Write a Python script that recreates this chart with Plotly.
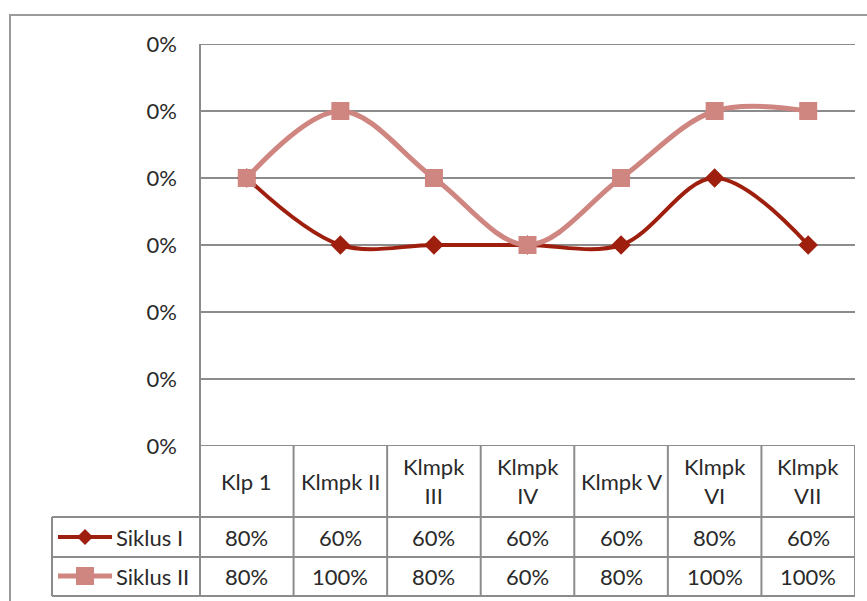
import plotly.graph_objects as go

# ---- data ----
categories = ["Klp 1", "Klmpk II", "Klmpk III", "Klmpk IV", "Klmpk V", "Klmpk VI", "Klmpk VII"]
header_labels = ["Klp 1", "Klmpk II", "Klmpk<br>III", "Klmpk<br>IV", "Klmpk V", "Klmpk<br>VI", "Klmpk<br>VII"]
series_names = ["Siklus I", "Siklus II"]
siklus_1 = [0.80, 0.60, 0.60, 0.60, 0.60, 0.80, 0.60]
siklus_2 = [0.80, 1.00, 0.80, 0.60, 0.80, 1.00, 1.00]
y_tick_values = [0.0, 0.2, 0.4, 0.6, 0.8, 1.0, 1.2]
y_tick_text = ["0%", "0%", "0%", "0%", "0%", "0%", "0%"]

# ---- styling ----
W, H = 867, 601
ML, MR, MT, MB = 200, 12, 44, 155
PW, PH = W - ML - MR, H - MT - MB
FONT = "Lato"
FS = 22
TXT = "#2a2a2a"
GRID = "#8c8c8c"
C1 = "#9e1f0e"
C2 = "#cf8580"


def px(x):
    return (x - ML) / PW


def py(y):
    return (H - MB - y) / PH


xs = list(range(len(categories)))
fig = go.Figure()
fig.add_trace(go.Scatter(
    x=xs, y=siklus_1, name=series_names[0], mode="lines+markers",
    line=dict(color=C1, width=4, shape="spline", smoothing=1.0),
    marker=dict(symbol="diamond", size=15, color=C1),
))
fig.add_trace(go.Scatter(
    x=xs, y=siklus_2, name=series_names[1], mode="lines+markers",
    line=dict(color=C2, width=5, shape="spline", smoothing=1.0),
    marker=dict(symbol="square", size=18, color=C2),
))

shapes = []


def hline(y, x0, x1):
    shapes.append(dict(type="line", xref="paper", yref="paper", x0=px(x0), x1=px(x1),
                       y0=py(y), y1=py(y), line=dict(color=GRID, width=2), layer="below"))


# outer chart border
shapes.append(dict(type="rect", xref="paper", yref="paper", x0=px(10), x1=px(900),
                   y0=py(15), y1=py(640), line=dict(color="#9a9a9a", width=2)))

# gridlines at the ends of the value range
for v in (y_tick_values[0], y_tick_values[-1]):
    shapes.append(dict(type="line", xref="paper", yref="y", x0=0, x1=1, y0=v, y1=v,
                       line=dict(color=GRID, width=2), layer="below"))

# data table grid
row_lines = [517, 557, 596]
for y in row_lines:
    hline(y, 52, ML + PW)
shapes.append(dict(type="line", xref="paper", yref="paper", x0=px(52), x1=px(52),
                   y0=py(517), y1=py(596), line=dict(color=GRID, width=2)))
shapes.append(dict(type="line", xref="paper", yref="paper", x0=0, x1=0,
                   y0=1, y1=py(596), line=dict(color=GRID, width=2)))
for i in xs:
    shapes.append(dict(type="line", xref="x", yref="paper", x0=i + 0.5, x1=i + 0.5,
                       y0=0, y1=py(596), line=dict(color=GRID, width=2)))

annotations = []
font = dict(family=FONT, size=FS, color=TXT)
row_centers = [537, 576]
for i, lab in enumerate(header_labels):
    annotations.append(dict(x=i, y=py(481), xref="x", yref="paper", text=lab, showarrow=False,
                            font=font, xanchor="center", yanchor="middle"))
    for vals, yc in zip([siklus_1, siklus_2], row_centers):
        annotations.append(dict(x=i, y=py(yc), xref="x", yref="paper", text=f"{vals[i]:.0%}",
                                showarrow=False, font=font, xanchor="center", yanchor="middle"))

# legend keys inside the table
for name, color, yc, kind in zip(series_names, [C1, C2], row_centers, ["diamond", "square"]):
    shapes.append(dict(type="line", xref="paper", yref="paper", x0=px(58), x1=px(112),
                       y0=py(yc), y1=py(yc), line=dict(color=color, width=4 if kind == "diamond" else 5)))
    if kind == "diamond":
        r = 8
        path = (f"M {px(85 - r)} {py(yc)} L {px(85)} {py(yc - r)} "
                f"L {px(85 + r)} {py(yc)} L {px(85)} {py(yc + r)} Z")
        shapes.append(dict(type="path", xref="paper", yref="paper", path=path,
                           fillcolor=color, line=dict(color=color, width=0)))
    else:
        r = 9
        shapes.append(dict(type="rect", xref="paper", yref="paper", x0=px(85 - r), x1=px(85 + r),
                           y0=py(yc - r), y1=py(yc + r), fillcolor=color, line=dict(width=0)))
    annotations.append(dict(x=px(114), y=py(yc), xref="paper", yref="paper", text=name,
                            showarrow=False, font=font, xanchor="left", yanchor="middle"))

fig.update_layout(
    width=W, height=H,
    margin=dict(l=ML, r=MR, t=MT, b=MB),
    paper_bgcolor="white", plot_bgcolor="white",
    showlegend=False,
    shapes=shapes, annotations=annotations,
    xaxis=dict(range=[-0.5, len(categories) - 0.5], showgrid=False, zeroline=False,
               showticklabels=False, ticks="", showline=False),
    yaxis=dict(range=[0, 1.2], tickvals=y_tick_values, ticktext=y_tick_text,
               showgrid=True, gridcolor=GRID, gridwidth=2, zeroline=False,
               showline=False, ticks="", ticklabelstandoff=22,
               tickfont=dict(family=FONT, size=FS, color=TXT)),
)

fig.write_html("out.html")
